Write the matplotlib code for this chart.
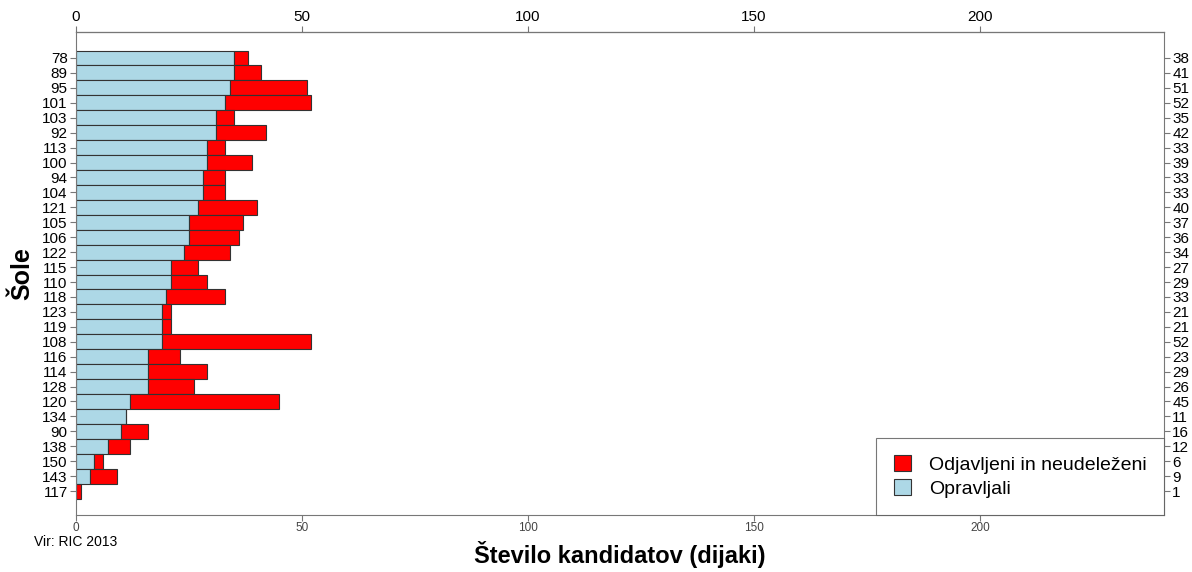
import matplotlib
matplotlib.use('Agg')
import matplotlib.pyplot as plt
import numpy as np

plt.rcParams['font.family'] = ['Liberation Sans', 'DejaVu Sans']

# schools, top to bottom
schools = ["78", "89", "95", "101", "103", "92", "113", "100", "94", "104",
           "121", "105", "106", "122", "115", "110", "118", "123", "119", "108",
           "116", "114", "128", "120", "134", "90", "138", "150", "143", "117"]
passed = [35, 35, 34, 33, 31, 31, 29, 29, 28, 28,
          27, 25, 25, 24, 21, 21, 20, 19, 19, 19,
          16, 16, 16, 12, 11, 10, 7, 4, 3, 0]
totals = [38, 41, 51, 52, 35, 42, 33, 39, 33, 33,
          40, 37, 36, 34, 27, 29, 33, 21, 21, 52,
          23, 29, 26, 45, 11, 16, 12, 6, 9, 1]
withdrawn = [t - p for t, p in zip(totals, passed)]

x_ticks = [0, 50, 100, 150, 200]

fig = plt.figure(figsize=(11.92, 5.72), dpi=100)
ax = fig.add_axes([76 / 1192, 1 - 515 / 572, (1164 - 76) / 1192, (515 - 32) / 572])

y = np.arange(len(schools))
ax.barh(y, passed, height=1.0, color="#ADD8E6", edgecolor="#333333", linewidth=0.8,
        label="Opravljali")
ax.barh(y, withdrawn, left=passed, height=1.0, color="#FF0000", edgecolor="#333333",
        linewidth=0.8, label="Odjavljeni in neudeleženi")

ax.set_xlim(0, 240.7)
ax.set_ylim(len(schools) - 1 + 1.6, -1.74)

ax.set_yticks(y)
ax.set_yticklabels(schools, fontsize=11)
ax.set_xticks(x_ticks)
ax.set_xticklabels([str(v) for v in x_ticks], fontsize=8.5, color="#444444")
ax.tick_params(axis="x", length=4, color="#777777", pad=1)
ax.tick_params(axis="y", length=4, color="#777777", pad=2)

for s in ax.spines.values():
    s.set_color("#777777")
    s.set_linewidth(0.8)

# top axis
top = ax.secondary_xaxis('top')
top.set_xticks(x_ticks)
top.set_xticklabels([str(v) for v in x_ticks], fontsize=11)
top.tick_params(length=4, color="#777777", pad=2)

# right axis with totals
ax2 = ax.twinx()
ax2.set_ylim(ax.get_ylim())
ax2.set_yticks(y)
ax2.set_yticklabels([str(t) for t in totals], fontsize=11)
ax2.tick_params(axis="y", length=4, color="#777777", pad=2)
for s in ax2.spines.values():
    s.set_visible(False)

ax.set_ylabel("Šole", fontsize=18, fontweight="bold", labelpad=6)
fig.text(620 / 1192, 1 - 555 / 572, "Število kandidatov (dijaki)", fontsize=17,
         fontweight="bold", ha="center", va="center")
fig.text(34 / 1192, 1 - 542 / 572, "Vir: RIC 2013", fontsize=10, va="center", ha="left")

handles, labels = ax.get_legend_handles_labels()
leg = ax.legend(handles[::-1], labels[::-1], loc="lower right", fontsize=14,
                frameon=True, fancybox=False, borderaxespad=0, handlelength=0.9,
                handleheight=0.9, borderpad=0.9, labelspacing=0.25, handletextpad=0.9)
leg.get_frame().set_edgecolor("#555555")
leg.get_frame().set_linewidth(0.8)

fig.savefig("out.png", dpi=100)
